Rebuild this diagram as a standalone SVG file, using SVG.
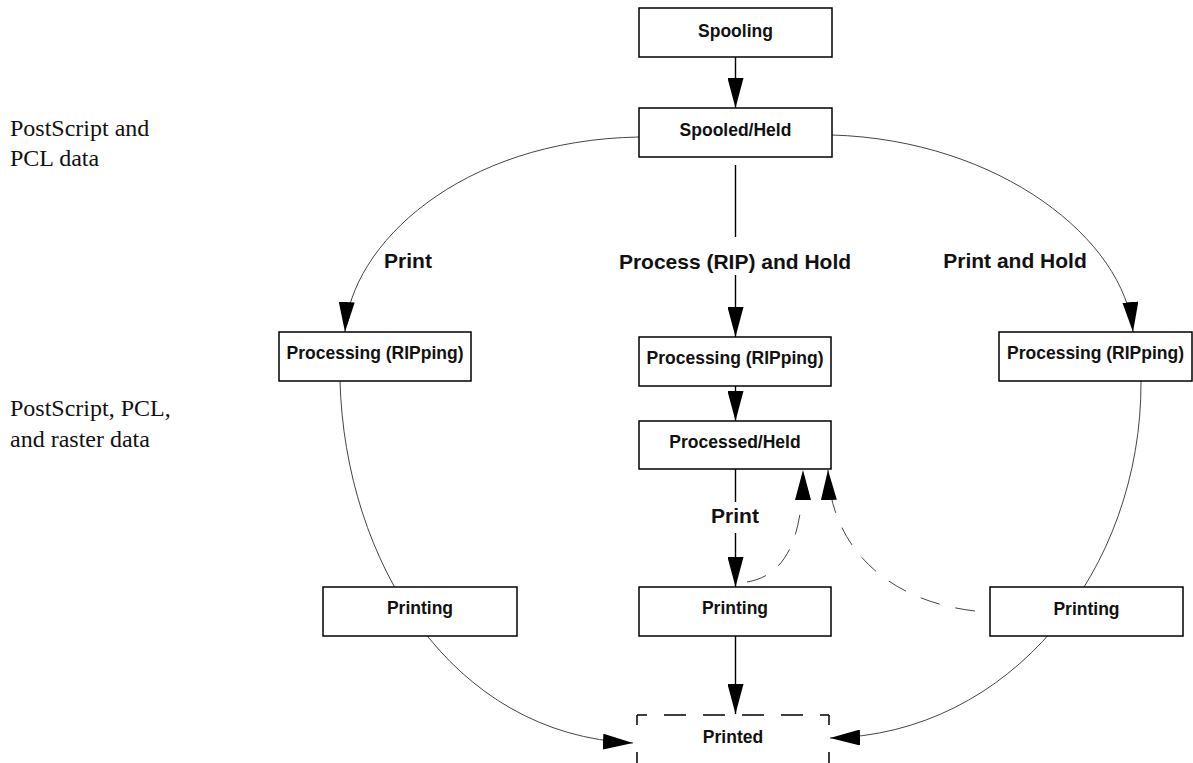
<svg xmlns="http://www.w3.org/2000/svg" width="1193" height="763" viewBox="0 0 1193 763">
<style>
  .box { fill: #fff; stroke: #000; stroke-width: 1.5; }
  .lbl { font-family: "Liberation Sans", Arial, sans-serif; font-weight: bold; font-size: 17.5px; text-anchor: middle; fill: #111; }
  .elbl { font-family: "Liberation Sans", Arial, sans-serif; font-weight: bold; font-size: 21px; text-anchor: middle; fill: #111; }
  .note { font-family: "Liberation Serif", "Times New Roman", serif; font-size: 24px; fill: #111; }
  .straight { fill: none; stroke: #000; stroke-width: 1.4; }
  .curve { fill: none; stroke: #444; stroke-width: 1; }
  .dash { fill: none; stroke: #444; stroke-width: 1; stroke-dasharray: 20 16; }
  .dashbox { fill: none; stroke: #000; stroke-width: 1.5; }
</style>
<defs>
  <marker id="ah" markerUnits="userSpaceOnUse" markerWidth="30" markerHeight="16" refX="30" refY="8" orient="auto">
    <path d="M0,0 L30,8 L0,16 Z" fill="#000" stroke="none"/>
  </marker>
</defs>

<g id="notes">
  <text class="note" x="10" y="136">PostScript and</text>
  <text class="note" x="10" y="166">PCL data</text>
  <text class="note" x="10" y="416">PostScript, PCL,</text>
  <text class="note" x="10" y="447">and raster data</text>
</g>

<g id="connectors">
  <path class="straight" d="M735.5,57 V108" marker-end="url(#ah)"/>
  <path class="straight" d="M735.5,165 V237"/>
  <path class="straight" d="M735.5,275 V337" marker-end="url(#ah)"/>
  <path class="straight" d="M735.5,386 V421" marker-end="url(#ah)"/>
  <path class="straight" d="M735.5,469 V502"/>
  <path class="straight" d="M735.5,533 V587" marker-end="url(#ah)"/>
  <path class="straight" d="M735.5,636 V714" marker-end="url(#ah)"/>
  <path class="curve" d="M639,137 C460,140 350,245 345,332" marker-end="url(#ah)"/>
  <path class="curve" d="M832,135 C1000,140 1125,240 1133,332" marker-end="url(#ah)"/>
  <path class="curve" d="M340,381 C345,560 450,735 633,743" marker-end="url(#ah)"/>
  <path class="curve" d="M1141,381 C1142,570 1010,735 830,738" marker-end="url(#ah)"/>
  <path class="dash" d="M747,582 C790,575 803,530 803,470" marker-end="url(#ah)"/>
  <path class="dash" d="M975,611 C880,600 830,540 828,470" marker-end="url(#ah)"/>
</g>

<g id="edge-labels">
  <text class="elbl" x="408" y="268">Print</text>
  <text class="elbl" x="735" y="269">Process (RIP) and Hold</text>
  <text class="elbl" x="1015" y="268">Print and Hold</text>
  <text class="elbl" x="735" y="523">Print</text>
</g>

<g id="spooling">
  <rect class="box" x="639" y="8" width="193" height="49"/>
  <text class="lbl" x="735.5" y="37">Spooling</text>
</g>
<g id="spooled-held">
  <rect class="box" x="639" y="108" width="193" height="49"/>
  <text class="lbl" x="735.5" y="136">Spooled/Held</text>
</g>
<g id="processing-left">
  <rect class="box" x="279" y="332" width="192" height="49"/>
  <text class="lbl" x="375" y="359">Processing (RIPping)</text>
</g>
<g id="processing-mid">
  <rect class="box" x="639" y="337" width="192" height="49"/>
  <text class="lbl" x="735" y="364">Processing (RIPping)</text>
</g>
<g id="processing-right">
  <rect class="box" x="999" y="332" width="193" height="49"/>
  <text class="lbl" x="1095.5" y="359">Processing (RIPping)</text>
</g>
<g id="processed-held">
  <rect class="box" x="639" y="421" width="192" height="48"/>
  <text class="lbl" x="735" y="448">Processed/Held</text>
</g>
<g id="printing-left">
  <rect class="box" x="323" y="587" width="194" height="49"/>
  <text class="lbl" x="420" y="614">Printing</text>
</g>
<g id="printing-mid">
  <rect class="box" x="639" y="587" width="192" height="49"/>
  <text class="lbl" x="735" y="614">Printing</text>
</g>
<g id="printing-right">
  <rect class="box" x="990" y="587" width="193" height="49"/>
  <text class="lbl" x="1086.5" y="615">Printing</text>
</g>
<g id="printed">
  <rect x="637" y="715" width="192" height="60" fill="#fff" stroke="none"/>
  <path class="dashbox" d="M637,715 H829" stroke-dasharray="22 17" stroke-dashoffset="12"/>
  <path class="dashbox" d="M637,715 V770" stroke-dasharray="22 27" stroke-dashoffset="12"/>
  <path class="dashbox" d="M829,715 V770" stroke-dasharray="22 27" stroke-dashoffset="12"/>
  <text class="lbl" x="733" y="743">Printed</text>
</g>
</svg>
